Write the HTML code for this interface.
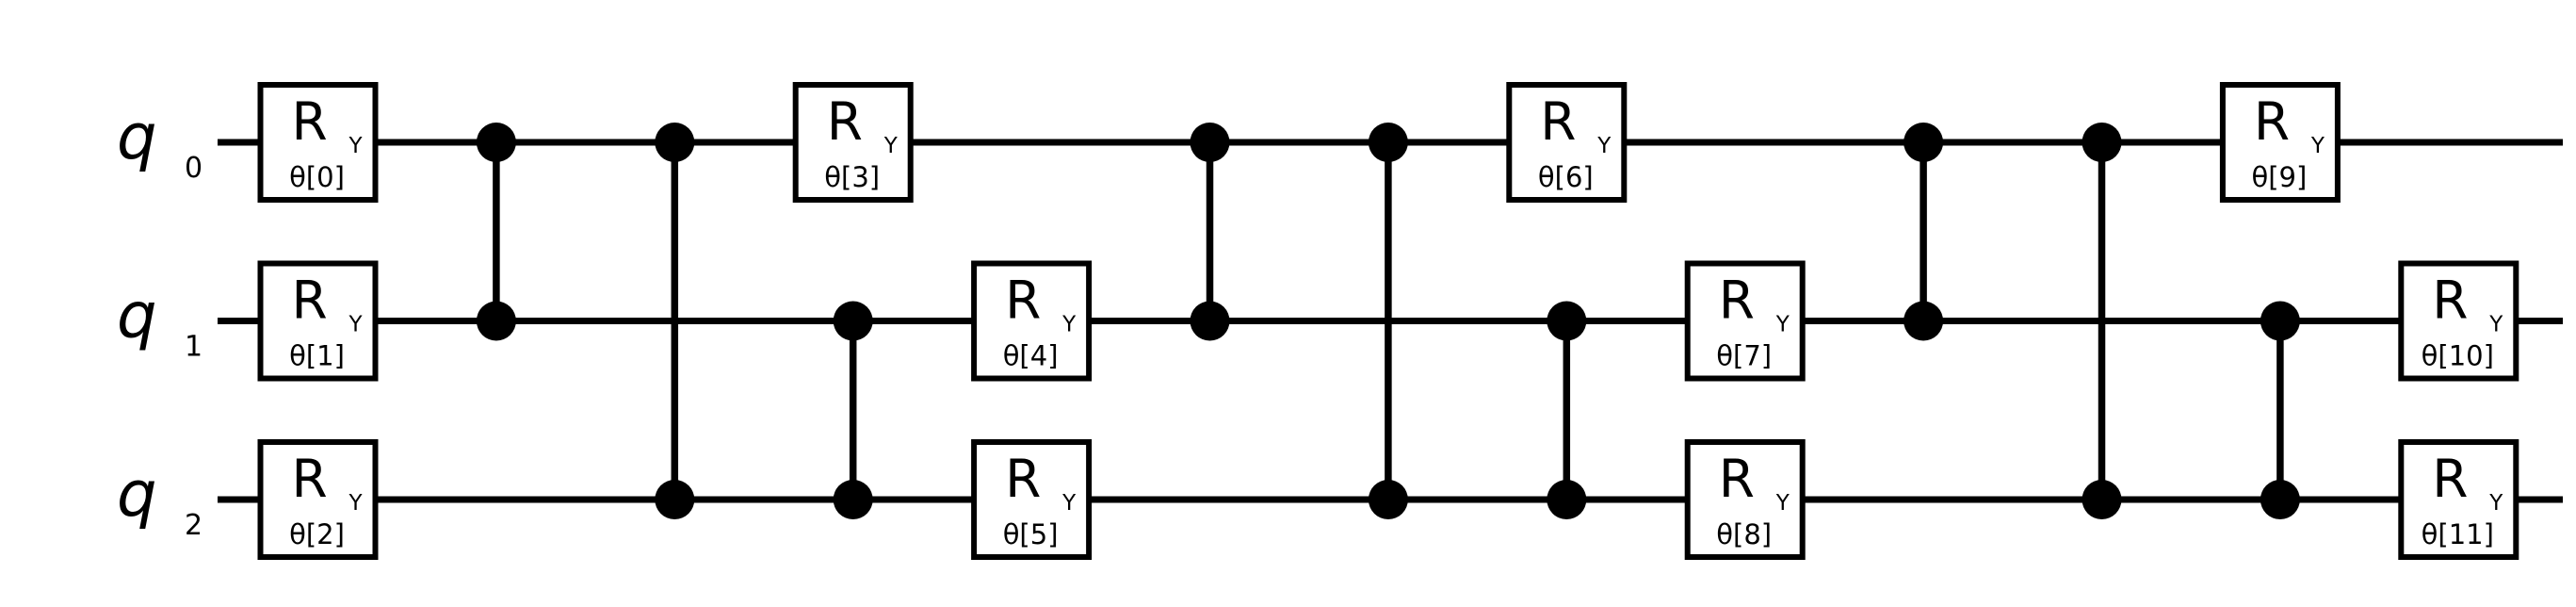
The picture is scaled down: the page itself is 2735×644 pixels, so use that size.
<!DOCTYPE html>
<html><head><meta charset="utf-8"><style>html,body{margin:0;padding:0;background:#fff;}svg{display:block;}</style></head>
<body>
<svg width="2735" height="644" viewBox="0 0 2735 644" xmlns="http://www.w3.org/2000/svg" font-family="DejaVu Sans, Liberation Sans, sans-serif">
<rect width="2735" height="644" fill="#fff"/>
<g stroke="#000" stroke-width="7">
<line x1="231" y1="151" x2="2721" y2="151"/>
<line x1="231" y1="340.5" x2="2721" y2="340.5"/>
<line x1="231" y1="530" x2="2721" y2="530"/>
</g>
<g font-style="italic" font-size="67" fill="#000">
<text x="124" y="168">q</text><text x="124" y="357.5">q</text><text x="124" y="547">q</text>
</g>
<g font-size="30" fill="#000">
<text x="196" y="188">0</text><text x="196" y="377.5">1</text><text x="196" y="567">2</text>
</g>
<g id="cz" stroke="#000" stroke-width="7.5" fill="#000">
<line x1="526.9" y1="151" x2="526.9" y2="340.5"/><circle cx="526.9" cy="151" r="21" stroke="none"/><circle cx="526.9" cy="340.5" r="21" stroke="none"/>
<line x1="716.3" y1="151" x2="716.3" y2="530"/><circle cx="716.3" cy="151" r="21" stroke="none"/><circle cx="716.3" cy="530" r="21" stroke="none"/>
<line x1="905.7" y1="340.5" x2="905.7" y2="530"/><circle cx="905.7" cy="340.5" r="21" stroke="none"/><circle cx="905.7" cy="530" r="21" stroke="none"/>
<line x1="1284.5" y1="151" x2="1284.5" y2="340.5"/><circle cx="1284.5" cy="151" r="21" stroke="none"/><circle cx="1284.5" cy="340.5" r="21" stroke="none"/>
<line x1="1473.9" y1="151" x2="1473.9" y2="530"/><circle cx="1473.9" cy="151" r="21" stroke="none"/><circle cx="1473.9" cy="530" r="21" stroke="none"/>
<line x1="1663.3" y1="340.5" x2="1663.3" y2="530"/><circle cx="1663.3" cy="340.5" r="21" stroke="none"/><circle cx="1663.3" cy="530" r="21" stroke="none"/>
<line x1="2042.1" y1="151" x2="2042.1" y2="340.5"/><circle cx="2042.1" cy="151" r="21" stroke="none"/><circle cx="2042.1" cy="340.5" r="21" stroke="none"/>
<line x1="2231.5" y1="151" x2="2231.5" y2="530"/><circle cx="2231.5" cy="151" r="21" stroke="none"/><circle cx="2231.5" cy="530" r="21" stroke="none"/>
<line x1="2420.9" y1="340.5" x2="2420.9" y2="530"/><circle cx="2420.9" cy="340.5" r="21" stroke="none"/><circle cx="2420.9" cy="530" r="21" stroke="none"/>
</g>
<g id="gates">
<!-- gate: translate(c, wireY) -->
<g transform="translate(337.5,151)"><rect x="-61" y="-61" width="122" height="122" fill="#fff" stroke="#000" stroke-width="6"/><text x="-28" y="-3" font-size="55">R</text><text x="33" y="11" font-size="23">Y</text><text x="-1" y="47" font-size="29" text-anchor="middle">θ[0]</text></g>
<g transform="translate(337.5,340.5)"><rect x="-61" y="-61" width="122" height="122" fill="#fff" stroke="#000" stroke-width="6"/><text x="-28" y="-3" font-size="55">R</text><text x="33" y="11" font-size="23">Y</text><text x="-1" y="47" font-size="29" text-anchor="middle">θ[1]</text></g>
<g transform="translate(337.5,530)"><rect x="-61" y="-61" width="122" height="122" fill="#fff" stroke="#000" stroke-width="6"/><text x="-28" y="-3" font-size="55">R</text><text x="33" y="11" font-size="23">Y</text><text x="-1" y="47" font-size="29" text-anchor="middle">θ[2]</text></g>
<g transform="translate(905.7,151)"><rect x="-61" y="-61" width="122" height="122" fill="#fff" stroke="#000" stroke-width="6"/><text x="-28" y="-3" font-size="55">R</text><text x="33" y="11" font-size="23">Y</text><text x="-1" y="47" font-size="29" text-anchor="middle">θ[3]</text></g>
<g transform="translate(1095.1,340.5)"><rect x="-61" y="-61" width="122" height="122" fill="#fff" stroke="#000" stroke-width="6"/><text x="-28" y="-3" font-size="55">R</text><text x="33" y="11" font-size="23">Y</text><text x="-1" y="47" font-size="29" text-anchor="middle">θ[4]</text></g>
<g transform="translate(1095.1,530)"><rect x="-61" y="-61" width="122" height="122" fill="#fff" stroke="#000" stroke-width="6"/><text x="-28" y="-3" font-size="55">R</text><text x="33" y="11" font-size="23">Y</text><text x="-1" y="47" font-size="29" text-anchor="middle">θ[5]</text></g>
<g transform="translate(1663.3,151)"><rect x="-61" y="-61" width="122" height="122" fill="#fff" stroke="#000" stroke-width="6"/><text x="-28" y="-3" font-size="55">R</text><text x="33" y="11" font-size="23">Y</text><text x="-1" y="47" font-size="29" text-anchor="middle">θ[6]</text></g>
<g transform="translate(1852.7,340.5)"><rect x="-61" y="-61" width="122" height="122" fill="#fff" stroke="#000" stroke-width="6"/><text x="-28" y="-3" font-size="55">R</text><text x="33" y="11" font-size="23">Y</text><text x="-1" y="47" font-size="29" text-anchor="middle">θ[7]</text></g>
<g transform="translate(1852.7,530)"><rect x="-61" y="-61" width="122" height="122" fill="#fff" stroke="#000" stroke-width="6"/><text x="-28" y="-3" font-size="55">R</text><text x="33" y="11" font-size="23">Y</text><text x="-1" y="47" font-size="29" text-anchor="middle">θ[8]</text></g>
<g transform="translate(2420.9,151)"><rect x="-61" y="-61" width="122" height="122" fill="#fff" stroke="#000" stroke-width="6"/><text x="-28" y="-3" font-size="55">R</text><text x="33" y="11" font-size="23">Y</text><text x="-1" y="47" font-size="29" text-anchor="middle">θ[9]</text></g>
<g transform="translate(2610.3,340.5)"><rect x="-61" y="-61" width="122" height="122" fill="#fff" stroke="#000" stroke-width="6"/><text x="-28" y="-3" font-size="55">R</text><text x="33" y="11" font-size="23">Y</text><text x="-1" y="47" font-size="29" text-anchor="middle">θ[10]</text></g>
<g transform="translate(2610.3,530)"><rect x="-61" y="-61" width="122" height="122" fill="#fff" stroke="#000" stroke-width="6"/><text x="-28" y="-3" font-size="55">R</text><text x="33" y="11" font-size="23">Y</text><text x="-1" y="47" font-size="29" text-anchor="middle">θ[11]</text></g>
</g>
</svg>
</body></html>
